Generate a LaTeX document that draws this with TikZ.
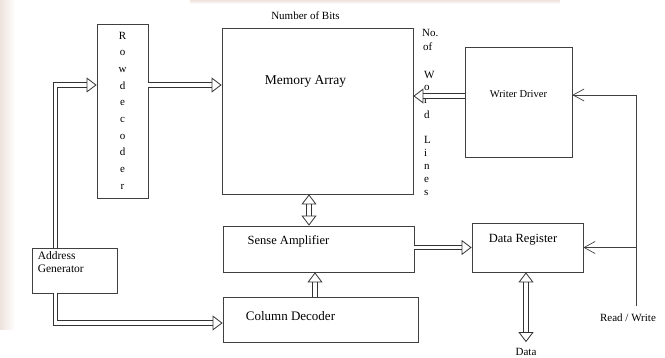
\documentclass[tikz,border=0pt]{standalone}
\usepackage{fontspec}
\setmainfont{Liberation Serif}
\usepackage{tikz}
\usetikzlibrary{positioning, arrows.meta, calc}
\definecolor{slideedge}{RGB}{238,226,220}
\tikzstyle{block} = [rectangle, draw=black!75, line width=0.8pt, inner sep=0pt]
\tikzstyle{bus} = [draw=black!80, line width=0.8pt, double=white, double distance=3.6pt]
\tikzstyle{ctrl} = [draw=black!75, line width=0.7pt, -{Straight Barb[length=11pt, width=12pt]}]
\tikzstyle{lbl} = [inner sep=0pt, font=\fontsize{12.5}{14}\selectfont]
\tikzstyle{small} = [inner sep=0pt, font=\fontsize{11}{13}\selectfont]
\tikzstyle{letter} = [inner sep=0pt, anchor=base, font=\fontsize{11}{13}\selectfont]

\begin{document}
\begin{tikzpicture}[x=1pt, y=-1pt, >={Triangle[open, length=10pt, width=15pt, line width=0.8pt]}]
  \useasboundingbox (0,0) rectangle (665,358);
  % faded edges of the slide
  \shade [left color=slideedge, right color=white] (0,0) rectangle (15,330);
  \shade [top color=slideedge, bottom color=white] (190,0) rectangle (560,4);

  % Blocks
  \node [block, minimum width=51pt, minimum height=174pt] (rowdec) at (122.5,111) {};
  \node [block, minimum width=191pt, minimum height=166pt] (mem) at (317.5,111) {};
  \node [block, minimum width=107pt, minimum height=110pt] (writer) at (518.5,102) {};
  \node [block, minimum width=191pt, minimum height=46pt] (sense) at (318.5,249) {};
  \node [block, minimum width=195pt, minimum height=45pt] (coldec) at (320.5,319.5) {};
  \node [block, minimum width=111pt, minimum height=49pt] (datareg) at (527.5,247.5) {};
  \node [block, minimum width=85pt, minimum height=45pt] (addr) at (74.5,270.5) {};

  % Block texts
  \node [lbl, font=\fontsize{13.5}{15}\selectfont] at ([xshift=-12pt,yshift=-54pt]mem.north) {Memory Array};
  \node [small] at ([xshift=-12pt,yshift=12pt]mem.north) {Number of Bits};
  \node [small, font=\fontsize{10.5}{12}\selectfont] at ([yshift=8pt]writer.center) {Writer Driver};
  \node [lbl] at ([xshift=-30pt,yshift=8pt]sense.center) {Sense Amplifier};
  \node [lbl, font=\fontsize{13}{15}\selectfont] at ([xshift=-30pt,yshift=3.5pt]coldec.center) {Column Decoder};
  \node [lbl] at ([xshift=-4.5pt,yshift=7.5pt]datareg.center) {Data Register};
  \node [small, anchor=north west, align=left, font=\fontsize{11.5}{13}\selectfont]
    at ([xshift=6pt,yshift=-4pt]addr.north west) {Address\\Generator};
  \foreach \ch [count=\i from 0] in {R,o,w,d,e,c,o,d,e,r}
    \node [letter] at ([yshift=-15.5pt-\i*16.7pt]rowdec.north) {\ch};

  % word line count beside the array
  \node [small, anchor=base west] at (422,37) {No.};
  \node [small, anchor=base west] at (423,51) {of};
  \foreach \ch/\y in {W/79, o/91, r/104, d/119, L/144, i/157, n/170, e/183, s/196}
    \node [letter, anchor=base west] at (424,\y) {\ch};

  % outside signals
  \node [small, inner sep=6pt] (data) at (526,352) {Data};
  \node [small, inner sep=3pt] (rw) at (628,318) {Read / Write};
  \coordinate (rwline) at (636,306);

  % Connections
  \draw [bus, ->] ([xshift=-19pt]addr.north) |- ([yshift=26pt]rowdec.west);
  \draw [bus, ->] ([xshift=-19pt]addr.south) |- ([yshift=-3.5pt]coldec.west);
  \draw [bus, ->] ([yshift=26pt]rowdec.east) -- ([yshift=26pt]rowdec.east -| mem.west);
  \draw [bus, ->] ([yshift=6pt]writer.west) -- ([yshift=6pt]writer.west -| mem.east);
  \draw [bus, <->] ([xshift=-8.5pt]mem.south) -- ([xshift=-8.5pt]mem.south |- sense.north);
  \draw [bus, ->] ([xshift=-5.5pt]coldec.north) -- ([xshift=-5.5pt]coldec.north |- sense.south);
  \draw [bus, ->] (sense.east |- datareg.west) -- (datareg.west);
  \draw [bus, <->] (datareg.south -| data.north) -- (data.north);

  \draw [ctrl] (rwline) |- ([yshift=7pt]writer.east);
  \draw [ctrl] (rwline |- datareg.east) -- (datareg.east);
\end{tikzpicture}
\end{document}
